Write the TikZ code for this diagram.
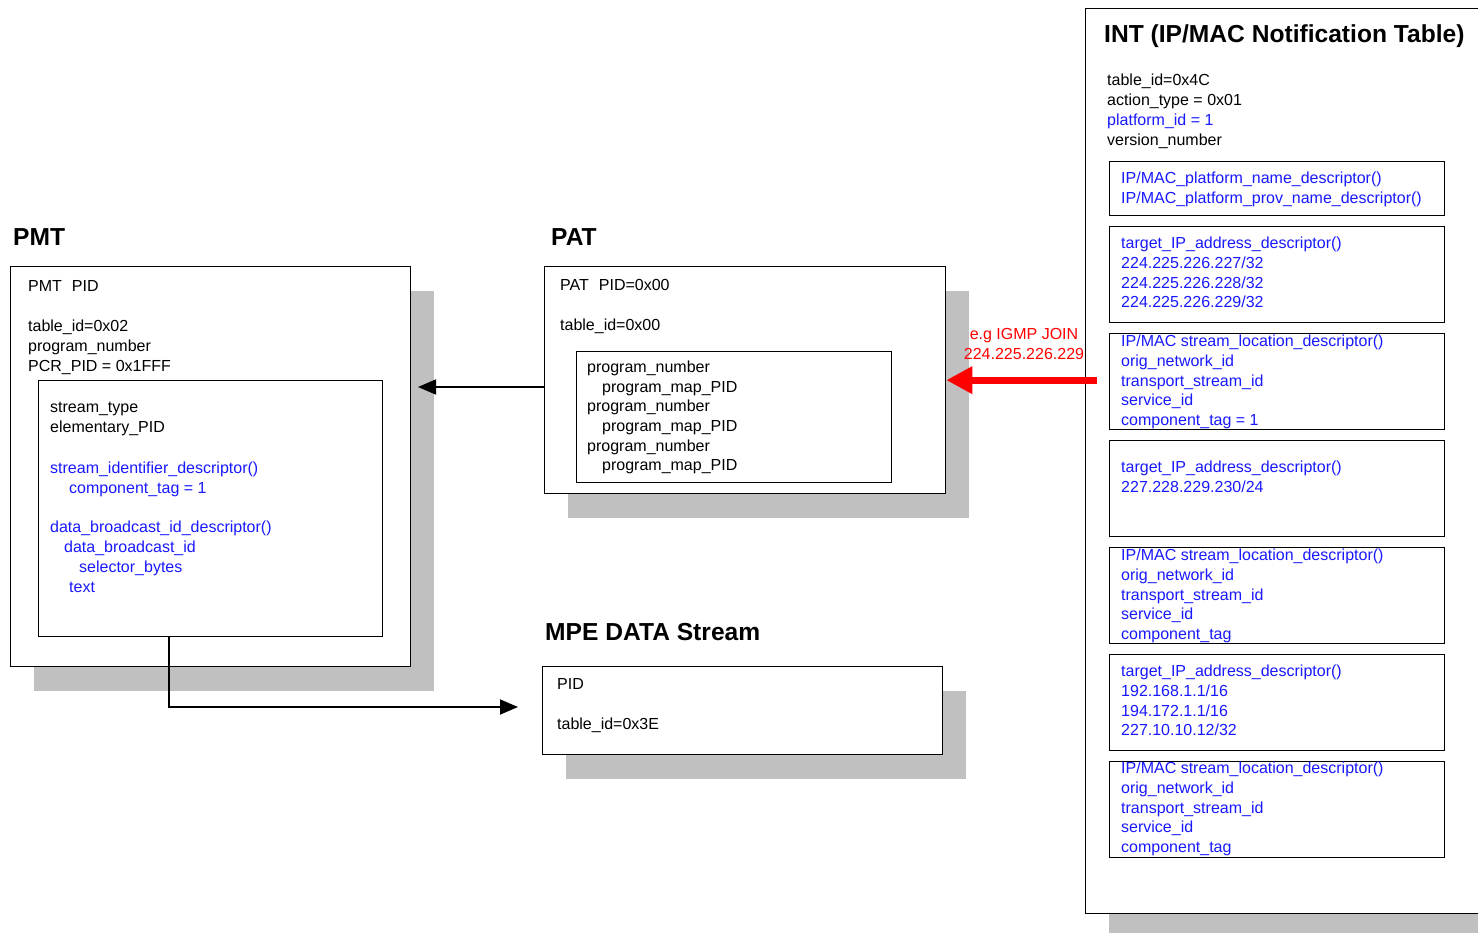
\documentclass[tikz,border=0pt]{standalone}
\usepackage{fontspec}
\setmainfont{Liberation Sans}
\usetikzlibrary{arrows.meta,shadows}
\definecolor{shadowgray}{RGB}{192,192,192}
\definecolor{descblue}{RGB}{25,25,255}
\definecolor{joinred}{RGB}{255,0,0}

\tikzset{
    box/.style={draw, line width=1.3pt, fill=white, inner sep=0pt, anchor=north west},
    shadowed/.style={drop shadow={shadow xshift=23pt, shadow yshift=-24pt, fill=shadowgray, opacity=1}},
    txt/.style={anchor=north west, inner sep=0pt, align=left, font=\fontsize{16}{20}\selectfont},
    desc/.style={txt, text=descblue},
    title/.style={anchor=north west, inner sep=0pt, font=\fontsize{24.6}{28}\selectfont\bfseries},
    arr/.style={line width=1.8pt, -{Triangle[length=18pt,width=15pt]}},
    joinarr/.style={draw=joinred, line width=7pt, -{Triangle[length=26pt,width=26pt]}}
}

\begin{document}
\begin{tikzpicture}[x=1pt, y=-1pt]
\useasboundingbox (0,0) rectangle (1478,933);

% PMT
\node[title] (pmttitle) at (13,228) {PMT};
\node[box, shadowed, minimum width=400pt, minimum height=400pt] (pmt) at (10,266) {};
\node[txt] (pmthead) at (28,280) {PMT\hspace{10pt}PID\\[20pt] table\_id=0x02\\ program\_number\\ PCR\_PID = 0x1FFF};
\node[box, minimum width=344pt, minimum height=256pt] (pmtlist) at (38,380) {};
\node[txt] (pmtes) at (50,402) {stream\_type\\ elementary\_PID};
\node[desc] (pmtdesc) at (50,462) {stream\_identifier\_descriptor()\\ \hspace*{19pt}component\_tag = 1\\[19pt] data\_broadcast\_id\_descriptor()\\ \hspace*{14pt}data\_broadcast\_id\\ \hspace*{29pt}selector\_bytes\\ \hspace*{19pt}text};

% PAT
\node[title] (pattitle) at (551,228) {PAT};
\node[box, shadowed, minimum width=401pt, minimum height=227pt] (pat) at (544,266) {};
\node[txt] (pathead) at (560,279) {PAT\hspace{10pt}PID=0x00\\[20pt] table\_id=0x00};
\node[box, minimum width=315pt, minimum height=131pt] (patlist) at (576,351) {};
\node[txt, font=\fontsize{16}{19.6}\selectfont] (patprog) at (587,361) {program\_number\\ \hspace*{15pt}program\_map\_PID\\ program\_number\\ \hspace*{15pt}program\_map\_PID\\ program\_number\\ \hspace*{15pt}program\_map\_PID};

% MPE data stream
\node[title] (mpetitle) at (545,623) {MPE DATA Stream};
\node[box, shadowed, minimum width=400pt, minimum height=88pt] (mpe) at (542,666) {};
\node[txt] (mpehead) at (557,678) {PID\\[20pt] table\_id=0x3E};

% INT
\node[box, drop shadow={shadow xshift=23pt, shadow yshift=-20pt, fill=shadowgray, opacity=1},
      minimum width=420pt, minimum height=905pt] (int) at (1085,8) {};
\node[title] (inttitle) at (1104,24) {INT (IP/MAC Notification Table)};
\node[txt] (inthead) at (1107,74) {table\_id=0x4C\\ action\_type = 0x01\\ \textcolor{descblue}{platform\_id = 1}\\ version\_number};

\node[box, minimum width=335pt, minimum height=54pt] (plat) at (1109,161) {};
\foreach \top [count=\i] in {226,333,440,547,654,761}
    \node[box, minimum width=335pt, minimum height=96pt] (d\i) at (1109,\top) {};

\node[desc] (platt) at (1121,172) {IP/MAC\_platform\_name\_descriptor()\\ IP/MAC\_platform\_prov\_name\_descriptor()};
\node[desc, font=\fontsize{16}{19.7}\selectfont] (d1t) at (1121,237) {target\_IP\_address\_descriptor()\\ 224.225.226.227/32\\ 224.225.226.228/32\\ 224.225.226.229/32};
\node[desc, font=\fontsize{16}{19.7}\selectfont] (d2t) at (1121,335) {IP/MAC stream\_location\_descriptor()\\ orig\_network\_id\\ transport\_stream\_id\\ service\_id\\ component\_tag = 1};
\node[desc, font=\fontsize{16}{19.7}\selectfont] (d3t) at (1121,461) {target\_IP\_address\_descriptor()\\ 227.228.229.230/24};
\node[desc, font=\fontsize{16}{19.7}\selectfont] (d4t) at (1121,549) {IP/MAC stream\_location\_descriptor()\\ orig\_network\_id\\ transport\_stream\_id\\ service\_id\\ component\_tag};
\node[desc, font=\fontsize{16}{19.7}\selectfont] (d5t) at (1121,665) {target\_IP\_address\_descriptor()\\ 192.168.1.1/16\\ 194.172.1.1/16\\ 227.10.10.12/32};
\node[desc, font=\fontsize{16}{19.7}\selectfont] (d6t) at (1121,762) {IP/MAC stream\_location\_descriptor()\\ orig\_network\_id\\ transport\_stream\_id\\ service\_id\\ component\_tag};

% IGMP join
\node[txt, align=center, anchor=center, text=joinred] (igmp) at (1024,344) {e.g IGMP JOIN\\ 224.225.226.229};

% connectors
\coordinate (pmtin) at (418,387);
\coordinate (mpein) at (518,707);
\draw[arr] (pat.west |- pmtin) -- (pmtin);
\draw[arr] ([xshift=131pt]pmtlist.south west) |- (mpein);
\draw[joinarr] ([xshift=-12pt]pat.east -| d2.west) -- (pat.east);
\end{tikzpicture}
\end{document}
